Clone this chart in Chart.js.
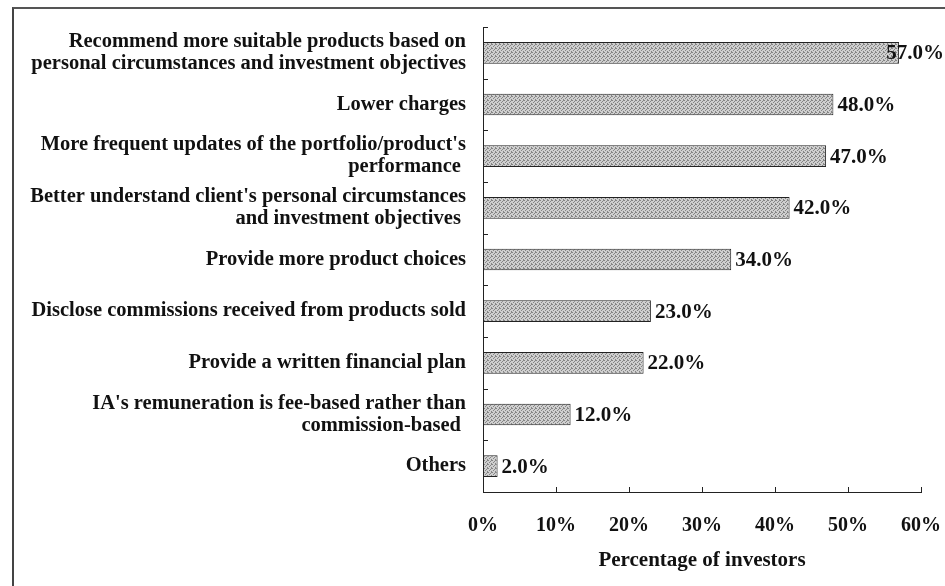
<!DOCTYPE html>
<html>
<head>
<meta charset="utf-8">
<script src="https://cdn.jsdelivr.net/npm/chart.js@4/dist/chart.umd.min.js"></script>
<style>
  html, body { margin: 0; padding: 0; background: #fff; }
  #wrap { position: relative; width: 945px; height: 586px; overflow: hidden; }
  #frame { position: absolute; left: 12px; top: 7px; width: 960px; height: 600px;
           border-left: 2px solid #444; border-top: 2px solid #555; }
  canvas { position: absolute; left: 0; top: 0; }
</style>
</head>
<body>
<div id="wrap">
  <div id="frame"></div>
  <canvas id="chart-1" width="945" height="586"></canvas>
</div>
<script>
const categories = [
  ['Recommend more suitable products based on', 'personal circumstances and investment objectives'],
  'Lower charges',
  ["More frequent updates of the portfolio/product's", 'performance '],
  ["Better understand client's personal circumstances", 'and investment objectives '],
  'Provide more product choices',
  'Disclose commissions received from products sold',
  'Provide a written financial plan',
  ["IA's remuneration is fee-based rather than", 'commission-based '],
  'Others'
]
const investors = [57, 48, 47, 42, 34, 23, 22, 12, 2]
const xTicks = [0, 10, 20, 30, 40, 50, 60]

const serif = '"Liberation Serif", "Times New Roman", serif'

// stippled grey fill like the printed original
function stipple() {
  const c = document.createElement('canvas')
  c.width = 4; c.height = 4
  const g = c.getContext('2d')
  g.fillStyle = '#cfcfcf'
  g.fillRect(0, 0, 4, 4)
  g.fillStyle = '#858585'
  ;[[0,0],[2,1],[1,2],[3,3],[3,0]].forEach(([x, y]) => g.fillRect(x, y, 1, 1))
  return g.createPattern(c, 'repeat')
}

// small tick marks that point into the plot, as in the source
const innerTicks = {
  id: 'innerTicks',
  afterDraw(chart) {
    const { ctx, chartArea: a, scales } = chart
    ctx.save()
    ctx.strokeStyle = '#222'
    ctx.lineWidth = 1
    ctx.beginPath()
    xTicks.forEach(v => {
      const x = Math.round(scales.x.getPixelForValue(v)) + 0.5
      ctx.moveTo(x, a.bottom); ctx.lineTo(x, a.bottom - 5)
    })
    const n = categories.length
    for (let i = 0; i < n; i++) {
      const y = Math.round(scales.y.getPixelForValue(i) - (a.bottom - a.top) / n / 2) + 0.5
      ctx.moveTo(a.left, y); ctx.lineTo(a.left + 5, y)
    }
    ctx.stroke()
    ctx.restore()
  }
}

// value labels at the end of each bar, kept inside the canvas
const valueLabels = {
  id: 'valueLabels',
  afterDatasetsDraw(chart) {
    const { ctx } = chart
    const meta = chart.getDatasetMeta(0)
    ctx.save()
    ctx.font = 'bold 21px ' + serif
    ctx.fillStyle = '#111'
    ctx.textBaseline = 'middle'
    meta.data.forEach((bar, i) => {
      const txt = investors[i].toFixed(1) + '%'
      const w = ctx.measureText(txt).width
      let x = bar.x + 4
      if (x + w > chart.width - 1) x = chart.width - 1 - w
      ctx.fillText(txt, x, bar.y + 1)
    })
    ctx.restore()
  }
}

new Chart(document.getElementById('chart-1').getContext('2d'), {
  type: 'bar',
  data: {
    labels: categories,
    datasets: [{
      label: 'Percentage of investors',
      data: investors,
      backgroundColor: stipple(),
      borderColor: '#222',
      borderWidth: 1,
      borderSkipped: false,
      barPercentage: 0.42,
      categoryPercentage: 1
    }]
  },
  options: {
    indexAxis: 'y',
    responsive: false,
    animation: false,
    layout: { padding: { top: 27, right: 24, left: 0, bottom: 0 } },
    plugins: { legend: { display: false }, tooltip: { enabled: false } },
    scales: {
      x: {
        min: 0, max: 60,
        afterFit: s => { s.height = 94; s.paddingLeft = 0; s.paddingRight = 0 },
        afterBuildTicks: s => { s.ticks = xTicks.map(v => ({ value: v })) },
        grid: { display: false, drawTicks: false },
        border: { display: true, color: '#222', width: 1 },
        ticks: {
          padding: 22,
          color: '#111',
          font: { family: serif, size: 20, weight: 'bold' },
          callback: v => v + '%'
        },
        title: {
          display: true,
          text: 'Percentage of investors',
          color: '#111',
          font: { family: serif, size: 21, weight: 'bold' },
          padding: { top: 0, bottom: 13 }
        }
      },
      y: {
        afterFit: s => { s.width = 483; s.paddingTop = 0; s.paddingBottom = 0 },
        grid: { display: false, drawTicks: false },
        border: { display: true, color: '#222', width: 1 },
        ticks: {
          padding: 17,
          color: '#111',
          font: { family: serif, size: 20.5, weight: 'bold', lineHeight: 1.07 }
        }
      }
    }
  },
  plugins: [innerTicks, valueLabels]
})
</script>
</body>
</html>
